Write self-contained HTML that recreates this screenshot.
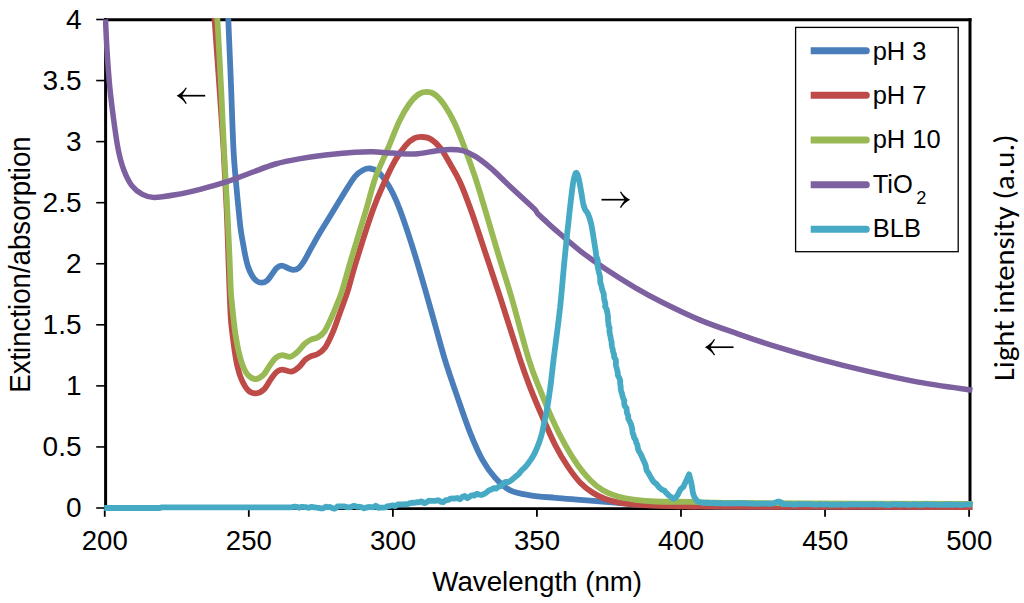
<!DOCTYPE html>
<html lang="en"><head><meta charset="utf-8"><title>Extinction/absorption spectra</title>
<style>
html,body{margin:0;padding:0;background:#fff;}
body{width:1024px;height:603px;overflow:hidden;}
svg{display:block;}
text{font-family:"Liberation Sans",Arial,sans-serif;fill:#000;}
text.cal{font-family:Carlito,Calibri,"Liberation Sans",sans-serif;}
</style></head><body>
<svg width="1024" height="603" viewBox="0 0 1024 603">
<rect width="1024" height="603" fill="#fff"/>
<defs><clipPath id="plot"><rect x="103" y="18" width="870.5" height="494"/></clipPath></defs>
<g stroke="#000" fill="none">
<path d="M105.6,18.2 V509.6" stroke-width="3"/>
<path d="M970,18.2 V509.6" stroke-width="3"/>
<path d="M104.1,19.7 H971.5" stroke-width="3"/>
<path d="M104.1,508.7 H971.5" stroke-width="2.8"/>
<path d="M96.2,508.00 H105" stroke-width="1.6"/>
<path d="M96.2,446.94 H105" stroke-width="1.6"/>
<path d="M96.2,385.88 H105" stroke-width="1.6"/>
<path d="M96.2,324.81 H105" stroke-width="1.6"/>
<path d="M96.2,263.75 H105" stroke-width="1.6"/>
<path d="M96.2,202.69 H105" stroke-width="1.6"/>
<path d="M96.2,141.62 H105" stroke-width="1.6"/>
<path d="M96.2,80.56 H105" stroke-width="1.6"/>
<path d="M96.2,19.50 H105" stroke-width="1.6"/>
<path d="M104.75,508 V516.8" stroke-width="1.8"/>
<path d="M248.81,508 V516.8" stroke-width="1.8"/>
<path d="M392.87,508 V516.8" stroke-width="1.8"/>
<path d="M536.92,508 V516.8" stroke-width="1.8"/>
<path d="M680.98,508 V516.8" stroke-width="1.8"/>
<path d="M825.04,508 V516.8" stroke-width="1.8"/>
<path d="M969.10,508 V516.8" stroke-width="1.8"/>
</g>
<g fill="none" stroke-width="5.8" stroke-linejoin="round" stroke-linecap="butt" clip-path="url(#plot)">
<path d="M227.60,0.00 C227.72,3.25 227.73,5.33 228.30,19.50 C228.87,33.67 230.13,63.25 231.00,85.00 C231.87,106.75 232.58,132.90 233.50,150.00 C234.42,167.10 235.48,175.93 236.50,187.60 C237.52,199.27 238.85,212.67 239.60,220.00 C240.35,227.33 240.43,227.73 241.00,231.60 C241.57,235.47 242.32,239.33 243.00,243.20 C243.68,247.07 244.27,250.92 245.10,254.80 C245.93,258.68 246.83,263.02 248.00,266.50 C249.17,269.98 250.65,273.28 252.10,275.70 C253.55,278.12 255.07,279.83 256.70,281.00 C258.33,282.17 260.15,282.80 261.90,282.70 C263.65,282.60 265.55,281.75 267.20,280.40 C268.85,279.05 270.25,276.63 271.80,274.60 C273.35,272.57 274.85,269.70 276.50,268.20 C278.15,266.70 279.77,265.60 281.70,265.60 C283.63,265.60 286.17,267.48 288.10,268.20 C290.03,268.92 291.57,269.90 293.30,269.90 C295.03,269.90 296.67,269.73 298.50,268.20 C300.33,266.67 302.17,264.08 304.30,260.70 C306.43,257.32 308.68,252.60 311.30,247.90 C313.92,243.20 316.80,237.90 320.00,232.50 C323.20,227.10 326.67,221.75 330.50,215.50 C334.33,209.25 338.92,201.50 343.00,195.00 C347.08,188.50 351.53,180.72 355.00,176.50 C358.47,172.28 361.28,171.03 363.80,169.70 C366.32,168.37 367.80,168.20 370.10,168.50 C372.40,168.80 375.10,169.55 377.60,171.50 C380.10,173.45 382.60,176.65 385.10,180.20 C387.60,183.75 390.10,187.78 392.60,192.80 C395.10,197.82 396.75,201.17 400.10,210.30 C403.45,219.43 408.50,234.32 412.70,247.60 C416.90,260.88 421.55,277.07 425.30,290.00 C429.05,302.93 431.90,313.48 435.20,325.20 C438.50,336.92 441.37,348.23 445.10,360.30 C448.83,372.37 453.43,385.55 457.60,397.60 C461.77,409.65 465.93,422.17 470.10,432.60 C474.27,443.03 478.43,452.68 482.60,460.20 C486.77,467.72 490.50,472.68 495.10,477.70 C499.70,482.72 504.35,487.37 510.20,490.30 C516.05,493.23 522.68,494.05 530.20,495.30 C537.72,496.55 546.95,497.05 555.30,497.80 C563.65,498.55 571.95,499.13 580.30,499.80 C588.65,500.47 597.05,501.10 605.40,501.80 C613.75,502.50 621.30,503.40 630.40,504.00 C639.50,504.60 648.40,505.03 660.00,505.40 C671.60,505.77 683.33,506.00 700.00,506.20 C716.67,506.40 714.60,506.50 760.00,506.60 C805.40,506.70 937.00,506.77 972.40,506.80" stroke="#4a7ebb"/>
<path d="M213.60,0.00 C213.77,3.25 213.60,4.50 214.60,19.50 C215.60,34.50 218.10,68.25 219.60,90.00 C221.10,111.75 222.42,130.00 223.60,150.00 C224.78,170.00 225.83,190.00 226.70,210.00 C227.57,230.00 228.15,252.50 228.80,270.00 C229.45,287.50 230.02,304.50 230.60,315.00 C231.18,325.50 231.65,327.20 232.30,333.00 C232.95,338.80 233.65,344.25 234.50,349.80 C235.35,355.35 236.22,361.33 237.40,366.30 C238.58,371.27 239.80,375.60 241.60,379.60 C243.40,383.60 245.80,388.02 248.20,390.30 C250.60,392.58 253.37,393.47 256.00,393.30 C258.63,393.13 261.57,391.58 264.00,389.30 C266.43,387.02 268.53,382.47 270.60,379.60 C272.67,376.73 274.47,373.75 276.40,372.10 C278.33,370.45 279.72,369.78 282.20,369.70 C284.68,369.62 288.53,372.02 291.30,371.60 C294.07,371.18 296.45,369.18 298.80,367.20 C301.15,365.22 303.33,361.55 305.40,359.70 C307.47,357.85 309.12,357.07 311.20,356.10 C313.28,355.13 315.55,355.37 317.90,353.90 C320.25,352.43 322.88,350.75 325.30,347.30 C327.72,343.85 330.18,338.32 332.40,333.20 C334.62,328.08 336.57,322.13 338.60,316.60 C340.63,311.07 343.03,304.43 344.60,300.00 C346.17,295.57 346.00,296.65 348.00,290.00 C350.00,283.35 352.47,273.38 356.60,260.10 C360.73,246.82 368.20,223.20 372.80,210.30 C377.40,197.40 380.45,191.05 384.20,182.70 C387.95,174.35 391.78,166.35 395.30,160.20 C398.82,154.05 402.10,149.47 405.30,145.80 C408.50,142.13 411.58,139.67 414.50,138.20 C417.42,136.73 420.05,136.83 422.80,137.00 C425.55,137.17 428.07,137.37 431.00,139.20 C433.93,141.03 437.20,143.87 440.40,148.00 C443.60,152.13 446.88,158.22 450.20,164.00 C453.52,169.78 456.83,174.98 460.30,182.70 C463.77,190.42 466.83,198.65 471.00,210.30 C475.17,221.95 480.42,238.03 485.30,252.60 C490.18,267.17 494.47,279.77 500.30,297.70 C506.13,315.63 515.32,345.22 520.30,360.20 C525.28,375.18 526.47,378.03 530.20,387.60 C533.93,397.17 538.52,408.00 542.70,417.60 C546.88,427.20 551.12,437.05 555.30,445.20 C559.48,453.35 563.63,460.25 567.80,466.50 C571.97,472.75 576.13,478.32 580.30,482.70 C584.47,487.08 588.62,490.08 592.80,492.80 C596.98,495.52 600.80,497.33 605.40,499.00 C610.00,500.67 614.15,501.77 620.40,502.80 C626.65,503.83 631.97,504.60 642.90,505.20 C653.83,505.80 675.98,506.17 686.00,506.40 C696.02,506.63 689.33,506.52 703.00,506.60 C716.67,506.68 723.10,506.83 768.00,506.90 C812.90,506.97 938.33,506.98 972.40,507.00" stroke="#be4b48"/>
<path d="M216.60,0.00 C216.73,3.25 216.63,4.50 217.40,19.50 C218.17,34.50 220.10,68.25 221.20,90.00 C222.30,111.75 223.07,131.65 224.00,150.00 C224.93,168.35 225.93,183.40 226.80,200.10 C227.67,216.80 228.53,235.22 229.20,250.20 C229.87,265.18 230.40,281.70 230.80,290.00 C231.20,298.30 231.18,295.57 231.60,300.00 C232.02,304.43 232.68,311.07 233.30,316.60 C233.92,322.13 234.47,327.67 235.30,333.20 C236.13,338.73 237.12,344.55 238.30,349.80 C239.48,355.05 240.75,360.45 242.40,364.70 C244.05,368.95 245.98,372.90 248.20,375.30 C250.42,377.70 253.22,379.12 255.70,379.10 C258.18,379.08 260.75,377.47 263.10,375.20 C265.45,372.93 267.72,368.37 269.80,365.50 C271.88,362.63 273.53,359.72 275.60,358.00 C277.67,356.28 279.72,355.42 282.20,355.20 C284.68,354.98 287.87,357.33 290.50,356.70 C293.13,356.07 295.65,353.53 298.00,351.40 C300.35,349.27 302.40,345.88 304.60,343.90 C306.80,341.92 308.98,340.60 311.20,339.50 C313.42,338.40 315.68,338.63 317.90,337.30 C320.12,335.97 322.30,334.68 324.50,331.50 C326.70,328.32 328.95,322.90 331.10,318.20 C333.25,313.50 335.53,308.00 337.40,303.30 C339.27,298.60 340.05,297.20 342.30,290.00 C344.55,282.80 346.95,273.38 350.90,260.10 C354.85,246.82 361.92,224.03 366.00,210.30 C370.08,196.57 371.68,188.13 375.40,177.70 C379.12,167.27 384.33,157.08 388.30,147.70 C392.27,138.32 395.68,128.72 399.20,121.40 C402.72,114.08 406.23,108.28 409.40,103.80 C412.57,99.32 415.35,96.48 418.20,94.50 C421.05,92.52 423.70,91.88 426.50,91.90 C429.30,91.92 432.02,92.40 435.00,94.60 C437.98,96.80 441.18,100.43 444.40,105.10 C447.62,109.77 450.93,115.50 454.30,122.60 C457.67,129.70 461.10,138.52 464.60,147.70 C468.10,156.88 471.85,167.27 475.30,177.70 C478.75,188.13 481.55,197.82 485.30,210.30 C489.05,222.78 493.42,238.03 497.80,252.60 C502.18,267.17 506.40,279.77 511.60,297.70 C516.80,315.63 524.23,344.80 529.00,360.20 C533.77,375.60 536.25,380.12 540.20,390.10 C544.15,400.08 548.52,410.92 552.70,420.10 C556.88,429.28 561.12,437.68 565.30,445.20 C569.48,452.72 573.63,459.37 577.80,465.20 C581.97,471.03 586.13,476.02 590.30,480.20 C594.47,484.38 598.20,487.58 602.80,490.30 C607.40,493.02 612.47,494.92 617.90,496.50 C623.33,498.08 629.13,498.97 635.40,499.80 C641.67,500.63 646.33,501.15 655.50,501.50 C664.67,501.85 676.32,501.65 690.40,501.90 C704.48,502.15 693.00,502.65 740.00,503.00 C787.00,503.35 933.67,503.83 972.40,504.00" stroke="#98b954"/>
<path d="M105.50,19.50 C105.75,24.58 106.32,39.05 107.00,50.00 C107.68,60.95 108.48,73.53 109.60,85.20 C110.72,96.87 112.25,109.20 113.70,120.00 C115.15,130.80 116.62,141.67 118.30,150.00 C119.98,158.33 121.55,164.07 123.80,170.00 C126.05,175.93 128.70,181.53 131.80,185.60 C134.90,189.67 138.72,192.43 142.40,194.40 C146.08,196.37 148.43,197.33 153.90,197.40 C159.37,197.47 167.48,196.15 175.20,194.80 C182.92,193.45 191.85,191.40 200.20,189.30 C208.55,187.20 216.95,184.92 225.30,182.20 C233.65,179.48 241.95,176.03 250.30,173.00 C258.65,169.97 267.05,166.40 275.40,164.00 C283.75,161.60 292.05,160.10 300.40,158.60 C308.75,157.10 316.40,156.05 325.50,155.00 C334.60,153.95 347.15,152.85 355.00,152.30 C362.85,151.75 366.33,151.57 372.60,151.70 C378.87,151.83 385.50,152.73 392.60,153.10 C399.70,153.47 408.10,154.25 415.20,153.90 C422.30,153.55 429.37,151.75 435.20,151.00 C441.03,150.25 445.60,149.45 450.20,149.40 C454.80,149.35 458.62,149.53 462.80,150.70 C466.98,151.87 470.72,153.57 475.30,156.40 C479.88,159.23 485.28,163.43 490.30,167.70 C495.32,171.97 500.38,177.28 505.40,182.00 C510.42,186.72 516.30,192.20 520.40,196.00 C524.50,199.80 527.47,202.43 530.00,204.80 C532.53,207.17 534.23,208.63 535.60,210.20 C536.97,211.77 536.63,212.50 538.20,214.20 C539.77,215.90 542.18,217.83 545.00,220.40 C547.82,222.97 549.25,224.53 555.10,229.60 C560.95,234.67 571.75,244.27 580.10,250.80 C588.45,257.33 596.03,262.67 605.20,268.80 C614.37,274.93 625.53,281.98 635.10,287.60 C644.67,293.22 651.75,297.08 662.60,302.50 C673.45,307.92 687.67,314.88 700.20,320.10 C712.73,325.32 725.27,329.42 737.80,333.80 C750.33,338.18 762.02,342.23 775.40,346.40 C788.78,350.57 802.63,354.63 818.10,358.80 C833.57,362.97 851.50,367.52 868.20,371.40 C884.90,375.28 900.93,378.95 918.30,382.10 C935.67,385.25 963.38,388.93 972.40,390.30" stroke="#7d60a0" stroke-width="5.5"/>
<path d="M104.20,508.00 L104.85,508.00 L105.57,508.00 L106.36,508.00 L107.22,508.00 L108.15,508.00 L109.14,508.00 L110.19,508.00 L111.29,508.00 L112.44,508.00 L113.65,508.00 L114.89,508.00 L116.18,508.00 L117.51,508.00 L118.87,508.00 L120.26,508.00 L121.68,508.00 L123.13,508.00 L124.59,508.00 L126.07,508.00 L127.57,508.00 L129.07,508.00 L130.58,508.00 L132.10,508.00 L133.62,508.00 L135.13,508.00 L136.63,508.00 L138.13,508.00 L139.61,508.00 L141.07,508.00 L142.52,508.00 L143.94,508.00 L145.33,508.00 L146.69,508.00 L148.02,508.00 L149.31,508.00 L150.55,508.00 L151.76,508.00 L152.91,508.00 L154.01,508.00 L155.06,508.00 L156.05,508.00 L156.98,508.00 L157.84,508.00 L158.63,508.00 L159.35,508.00 L160.00,508.00 L161.00,507.40 L161.62,507.40 L162.26,507.40 L162.94,507.40 L163.64,507.40 L164.37,507.40 L165.13,507.40 L165.92,507.40 L166.73,507.40 L167.57,507.40 L168.43,507.40 L169.32,507.40 L170.24,507.40 L171.17,507.40 L172.13,507.40 L173.11,507.40 L174.12,507.40 L175.15,507.40 L176.19,507.40 L177.26,507.40 L178.35,507.40 L179.45,507.40 L180.58,507.40 L181.72,507.40 L182.88,507.40 L184.06,507.40 L185.26,507.40 L186.47,507.40 L187.69,507.40 L188.93,507.40 L190.19,507.40 L191.46,507.40 L192.74,507.40 L194.04,507.40 L195.34,507.40 L196.66,507.40 L197.99,507.40 L199.33,507.40 L200.68,507.40 L202.04,507.40 L203.41,507.40 L204.79,507.41 L206.17,507.41 L207.57,507.41 L208.96,507.41 L210.37,507.41 L211.78,507.41 L213.19,507.41 L214.61,507.41 L216.04,507.41 L217.46,507.41 L218.89,507.41 L220.33,507.41 L221.76,507.41 L223.19,507.41 L224.63,507.41 L226.06,507.41 L227.50,507.41 L228.93,507.41 L230.36,507.41 L231.79,507.41 L233.22,507.41 L234.64,507.41 L236.06,507.41 L237.48,507.41 L238.89,507.41 L240.30,507.41 L241.70,507.41 L243.09,507.41 L244.47,507.41 L245.85,507.41 L247.22,507.41 L248.58,507.41 L249.93,507.41 L251.28,507.41 L252.61,507.41 L253.93,507.41 L255.24,507.41 L256.53,507.41 L257.82,507.41 L259.09,507.41 L260.34,507.41 L261.59,507.41 L262.82,507.41 L264.03,507.41 L265.23,507.41 L266.41,507.40 L267.57,507.40 L268.71,507.40 L269.84,507.40 L270.95,507.40 L272.04,507.40 L273.11,507.40 L274.16,507.40 L275.19,507.40 L276.20,507.40 L277.18,507.40 L278.14,507.40 L279.08,507.40 L280.00,507.40 L281.77,507.40 L283.51,507.40 L285.21,507.40 L286.87,507.40 L288.51,507.40 L290.11,507.40 L291.67,507.39 L293.21,506.82 L294.72,506.77 L296.19,506.71 L297.64,507.08 L299.06,507.75 L300.45,507.29 L301.82,506.81 L303.16,506.92 L304.47,507.03 L305.76,507.15 L307.03,507.41 L308.27,507.81 L309.50,507.61 L310.70,506.98 L311.88,506.88 L313.04,507.17 L314.19,507.34 L315.31,507.41 L316.42,507.55 L317.51,507.79 L318.59,507.98 L319.65,507.94 L320.70,508.34 L321.74,508.38 L322.76,508.44 L323.78,508.04 L324.78,507.30 L325.77,506.73 L326.75,506.89 L327.73,507.06 L328.69,507.05 L329.65,506.98 L330.61,507.06 L331.56,507.68 L332.50,508.30 L333.44,508.55 L334.38,508.63 L335.32,508.58 L336.25,507.63 L337.19,506.68 L338.12,506.28 L339.06,506.30 L340.00,506.33 L341.66,506.43 L343.27,506.47 L344.84,506.48 L346.36,506.94 L347.85,507.28 L349.29,507.45 L350.70,507.02 L352.08,506.45 L353.41,506.00 L354.72,505.83 L355.99,506.47 L357.23,506.85 L358.44,506.76 L359.62,506.79 L360.78,507.06 L361.91,507.39 L363.02,507.91 L364.10,508.33 L365.17,507.96 L366.21,507.60 L367.23,507.33 L368.24,507.09 L369.23,507.00 L370.21,507.11 L371.17,507.21 L372.13,507.26 L373.07,507.31 L374.00,507.02 L375.67,505.68 L377.24,506.70 L378.70,507.85 L380.08,507.61 L381.37,507.53 L382.59,507.64 L383.75,507.63 L384.86,507.48 L385.93,507.21 L386.96,506.64 L387.98,506.09 L388.98,506.04 L389.97,506.00 L390.98,505.74 L392.00,505.31 L393.52,505.40 L394.98,506.27 L396.39,505.46 L397.75,504.49 L399.06,504.38 L400.33,504.33 L401.55,504.43 L402.74,504.44 L403.88,504.26 L405.00,504.13 L406.52,504.30 L407.95,504.01 L409.29,503.36 L410.56,503.01 L411.76,502.76 L412.91,502.74 L414.00,502.78 L415.33,502.55 L416.42,502.24 L417.46,502.18 L418.59,502.32 L420.00,501.95 L421.07,501.36 L422.27,501.71 L423.54,502.93 L424.88,503.00 L426.22,502.44 L427.55,501.59 L428.82,500.75 L430.00,500.80 L431.44,500.87 L432.78,500.93 L434.06,500.95 L435.33,500.89 L436.63,500.61 L438.00,500.09 L439.24,500.62 L440.53,501.67 L441.84,501.98 L443.16,502.09 L444.47,501.12 L445.76,500.24 L447.00,500.13 L448.19,499.93 L449.11,499.39 L450.00,498.86 L451.11,498.53 L452.69,498.31 L455.00,498.57 L455.83,498.42 L456.74,498.17 L457.72,498.01 L458.77,498.58 L459.89,499.18 L461.05,498.19 L462.26,496.98 L463.51,496.46 L464.79,496.02 L466.09,497.29 L467.41,498.23 L468.74,497.28 L470.08,496.35 L471.41,495.46 L472.73,495.27 L474.03,495.63 L475.30,494.96 L476.54,493.86 L477.74,493.99 L478.90,494.41 L480.00,494.73 L481.24,495.06 L482.47,494.74 L483.68,494.16 L484.87,493.50 L486.05,492.82 L487.21,491.86 L488.36,490.77 L489.50,490.16 L490.61,489.83 L491.71,489.29 L492.80,488.53 L493.87,488.04 L494.93,488.34 L495.97,488.62 L497.00,487.84 L498.02,487.03 L499.02,486.59 L500.00,486.39 L501.16,485.83 L502.29,484.58 L503.39,483.42 L504.47,482.66 L505.52,481.89 L506.56,481.94 L507.57,482.05 L508.56,481.84 L509.54,481.39 L510.51,480.90 L511.47,480.06 L512.41,479.23 L513.35,478.44 L514.28,477.68 L515.20,476.92 L516.19,476.16 L517.17,475.38 L518.15,474.53 L519.11,473.61 L520.07,472.24 L521.01,471.16 L521.93,470.08 L522.83,469.17 L523.72,468.44 L524.57,467.71 L525.40,466.83 L526.20,465.91 L526.97,464.99 L527.70,464.05 L528.57,462.84 L529.38,461.69 L530.14,460.64 L530.85,459.64 L531.51,458.63 L532.15,457.62 L532.77,456.64 L533.38,455.61 L533.98,454.53 L534.58,453.35 L535.20,452.03 L535.66,451.01 L536.11,449.97 L536.56,448.90 L537.00,447.85 L537.44,446.82 L537.87,445.77 L538.30,444.69 L538.72,443.59 L539.13,442.46 L539.54,441.27 L539.94,440.05 L540.34,438.81 L540.73,437.54 L541.12,436.25 L541.50,434.93 L541.80,433.80 L542.09,432.59 L542.38,431.36 L542.66,430.11 L542.94,428.84 L543.22,427.55 L543.49,426.25 L543.76,424.93 L544.03,423.62 L544.29,422.42 L544.55,421.21 L544.81,419.99 L545.06,418.77 L545.31,417.56 L545.56,416.34 L545.80,415.13 L546.03,413.93 L546.27,412.73 L546.50,411.53 L546.73,410.31 L546.95,409.09 L547.16,407.89 L547.37,406.69 L547.58,405.50 L547.78,404.30 L547.98,403.11 L548.17,401.92 L548.36,400.72 L548.55,399.52 L548.74,398.31 L548.92,397.09 L549.11,395.86 L549.29,394.61 L549.47,393.36 L549.65,392.08 L549.83,390.80 L550.02,389.49 L550.20,388.16 L550.36,387.02 L550.50,385.91 L550.65,384.81 L550.78,383.73 L550.92,382.66 L551.05,381.60 L551.18,380.53 L551.30,379.43 L551.43,378.31 L551.56,377.17 L551.69,376.01 L551.82,374.83 L551.96,373.61 L552.10,372.34 L552.24,371.04 L552.39,369.68 L552.55,368.27 L552.72,366.79 L552.90,365.25 L553.09,363.64 L553.29,361.94 L553.50,360.17 L553.62,359.18 L553.74,358.19 L553.87,357.17 L554.00,356.13 L554.14,355.07 L554.28,353.98 L554.42,352.88 L554.56,351.75 L554.71,350.60 L554.86,349.44 L555.02,348.25 L555.17,347.06 L555.33,345.84 L555.49,344.61 L555.65,343.37 L555.82,342.12 L555.98,340.85 L556.15,339.59 L556.31,338.31 L556.48,337.03 L556.65,335.75 L556.81,334.45 L556.98,333.15 L557.15,331.85 L557.32,330.54 L557.49,329.23 L557.65,327.92 L557.82,326.61 L557.98,325.30 L558.15,323.99 L558.31,322.68 L558.47,321.38 L558.63,320.08 L558.78,318.78 L558.94,317.49 L559.09,316.21 L559.24,314.94 L559.38,313.68 L559.52,312.42 L559.66,311.18 L559.80,309.95 L559.93,308.72 L560.07,307.84 L560.20,306.61 L560.33,305.36 L560.45,304.11 L560.58,302.86 L560.71,301.60 L560.83,300.34 L560.95,299.07 L561.08,297.81 L561.20,296.54 L561.32,295.27 L561.44,293.99 L561.55,292.72 L561.67,291.45 L561.79,290.18 L561.90,288.90 L562.02,287.64 L562.13,286.37 L562.24,285.11 L562.36,283.85 L562.47,282.59 L562.58,281.34 L562.69,280.09 L562.80,278.85 L562.91,277.61 L563.02,276.39 L563.12,275.16 L563.23,273.95 L563.34,272.75 L563.45,271.55 L563.55,270.36 L563.66,269.19 L563.76,268.02 L563.87,266.87 L563.97,265.72 L564.08,264.59 L564.19,263.47 L564.29,262.37 L564.40,261.28 L564.50,260.20 L564.64,258.80 L564.77,257.41 L564.91,256.05 L565.04,254.70 L565.18,253.37 L565.31,252.06 L565.44,250.76 L565.57,249.48 L565.70,248.22 L565.82,246.97 L565.95,245.73 L566.08,244.50 L566.20,243.29 L566.33,242.09 L566.45,240.89 L566.57,239.71 L566.70,238.54 L566.82,237.37 L566.94,236.21 L567.06,235.06 L567.18,233.91 L567.31,232.77 L567.43,231.63 L567.55,230.50 L567.67,229.37 L567.79,228.24 L567.91,227.11 L568.03,225.98 L568.16,224.86 L568.28,223.73 L568.40,222.60 L568.54,221.30 L568.68,219.98 L568.83,218.66 L568.97,217.32 L569.12,215.99 L569.27,214.65 L569.41,213.31 L569.56,211.98 L569.71,210.65 L569.85,209.32 L570.00,208.01 L570.15,206.71 L570.29,205.42 L570.43,204.15 L570.58,202.89 L570.72,201.66 L570.86,200.45 L570.99,199.26 L571.13,198.10 L571.26,196.98 L571.39,195.88 L571.52,194.82 L571.64,193.79 L571.76,192.81 L571.88,191.86 L571.99,190.96 L572.10,190.10 L572.37,188.01 L572.62,186.20 L572.85,184.64 L573.06,183.29 L573.25,182.12 L573.44,181.09 L573.62,180.15 L573.81,179.29 L574.00,178.45 L574.20,177.60 L574.72,175.62 L575.24,174.08 L575.76,173.10 L576.30,172.80 L576.86,173.28 L577.44,174.46 L578.02,176.15 L578.60,178.20 L578.83,179.11 L579.05,180.10 L579.27,181.16 L579.49,182.29 L579.71,183.47 L579.93,184.72 L580.16,186.01 L580.40,187.34 L580.64,188.71 L580.90,190.10 L581.10,191.23 L581.31,192.44 L581.52,193.72 L581.73,195.05 L581.95,196.41 L582.17,197.78 L582.39,199.15 L582.63,200.50 L582.87,201.81 L583.11,203.06 L583.37,204.24 L583.63,205.32 L583.90,206.30 L584.44,207.81 L585.04,209.47 L585.66,210.41 L586.30,211.24 L586.93,212.07 L587.54,213.03 L588.10,214.22 L588.50,215.24 L588.89,216.24 L589.25,217.25 L589.61,218.30 L589.96,219.39 L590.30,220.59 L590.66,221.93 L591.02,223.44 L591.40,225.16 L591.58,226.04 L591.77,226.97 L591.95,227.93 L592.13,228.93 L592.31,229.97 L592.49,231.04 L592.68,232.14 L592.86,233.28 L593.05,234.44 L593.24,235.62 L593.43,236.84 L593.62,238.07 L593.82,239.33 L594.02,240.60 L594.23,241.90 L594.44,243.22 L594.65,244.64 L594.87,246.08 L595.10,247.53 L595.28,248.64 L595.45,249.78 L595.63,250.93 L595.81,252.10 L596.00,253.29 L596.03,254.49 L596.19,255.70 L596.54,256.94 L597.06,258.18 L597.50,259.36 L597.74,260.52 L597.92,261.69 L597.60,262.87 L597.29,264.05 L597.47,265.24 L597.69,266.44 L597.93,267.64 L598.18,268.85 L598.41,270.05 L598.62,271.26 L598.93,272.48 L599.31,273.79 L599.66,275.10 L599.95,276.40 L600.16,277.71 L600.17,278.92 L600.19,280.14 L600.25,281.36 L600.31,282.58 L600.69,283.81 L601.17,285.05 L601.52,286.28 L601.72,287.49 L601.96,288.70 L602.32,289.91 L602.68,291.13 L603.16,292.36 L603.65,293.58 L603.80,294.81 L603.88,296.04 L603.98,297.28 L604.11,298.51 L604.32,299.66 L604.62,300.82 L604.92,301.98 L605.20,303.14 L605.44,304.30 L605.28,305.47 L605.11,306.64 L605.82,307.82 L606.60,308.99 L606.90,310.18 L607.04,311.34 L607.25,312.50 L607.51,313.66 L607.75,314.82 L607.91,315.98 L608.06,317.15 L608.03,318.31 L607.98,319.48 L608.10,320.65 L608.30,321.82 L608.44,322.99 L608.46,324.18 L608.53,325.41 L609.06,326.65 L609.59,327.89 L609.53,329.14 L609.38,330.39 L609.45,331.65 L609.66,332.91 L609.91,334.18 L610.22,335.46 L610.49,336.75 L610.68,338.04 L610.88,339.29 L611.22,340.51 L611.57,341.74 L611.62,342.98 L611.66,344.23 L611.84,345.49 L612.03,346.61 L612.29,347.75 L612.60,348.90 L612.88,350.06 L613.07,351.24 L613.30,352.40 L613.70,353.56 L614.11,354.73 L614.12,355.91 L614.14,357.10 L614.83,358.30 L615.64,359.49 L615.89,360.69 L615.97,361.90 L615.95,363.10 L615.89,364.36 L616.03,365.63 L616.35,366.89 L616.66,368.15 L616.98,369.40 L617.27,370.64 L617.53,371.88 L617.76,373.11 L617.85,374.33 L617.95,375.54 L618.64,376.74 L619.34,377.92 L619.76,379.10 L620.09,380.25 L620.25,381.39 L620.18,382.51 L620.12,383.60 L620.36,384.68 L620.68,386.06 L620.74,387.49 L620.76,388.92 L621.03,390.32 L621.33,391.69 L621.73,393.04 L622.17,394.36 L622.49,395.66 L622.73,396.95 L623.09,398.18 L623.71,399.32 L624.33,400.45 L624.23,401.57 L624.12,402.69 L624.21,403.80 L624.42,404.92 L624.82,406.04 L625.67,407.15 L626.54,408.20 L626.64,409.25 L626.69,410.31 L626.77,411.39 L626.86,412.48 L627.17,413.58 L627.77,414.71 L628.22,415.88 L628.23,417.14 L628.25,418.43 L628.85,419.74 L629.51,421.07 L630.17,422.41 L630.82,423.77 L631.29,425.07 L631.59,426.35 L631.87,427.63 L632.14,428.91 L632.36,430.19 L632.46,431.47 L632.60,432.72 L633.05,433.89 L633.50,435.06 L633.75,436.21 L634.00,437.35 L634.63,438.48 L635.37,439.58 L635.86,440.67 L636.08,441.73 L636.31,442.76 L636.79,443.77 L637.26,444.75 L637.54,445.69 L637.64,446.60 L637.73,447.55 L638.14,449.23 L638.66,450.81 L639.61,452.28 L640.45,453.68 L641.04,454.83 L641.60,455.87 L641.97,456.86 L642.34,457.80 L642.74,458.71 L643.15,459.67 L643.58,460.64 L644.03,461.60 L644.49,462.56 L644.94,463.52 L645.38,464.69 L645.91,466.45 L646.17,468.15 L646.43,469.81 L647.13,471.27 L647.89,472.24 L648.51,473.18 L649.03,474.11 L649.56,475.04 L650.03,476.03 L650.53,477.02 L651.18,478.00 L651.94,479.26 L652.69,480.51 L653.62,481.78 L654.58,482.63 L655.53,483.27 L656.41,483.90 L657.30,485.17 L658.36,486.47 L659.50,487.65 L660.62,488.54 L661.67,489.40 L662.68,489.95 L663.67,490.33 L664.40,490.67 L665.20,491.66 L666.01,492.73 L667.30,493.79 L668.21,494.82 L669.26,495.74 L670.29,496.51 L671.29,497.18 L672.24,497.98 L673.15,498.56 L674.00,498.66 L674.98,498.11 L675.87,497.19 L676.70,496.25 L677.47,495.15 L678.20,493.93 L678.91,492.49 L679.60,491.05 L680.30,489.78 L681.09,488.74 L681.86,488.16 L682.60,487.58 L683.31,486.86 L684.00,485.47 L684.66,484.07 L685.30,482.65 L685.94,481.30 L686.58,479.98 L687.21,478.62 L687.80,477.29 L688.33,476.09 L688.77,475.07 L689.10,474.33 L689.30,475.11 L689.56,476.13 L689.88,477.36 L690.23,478.72 L690.60,480.19 L690.96,481.72 L691.30,483.20 L691.60,484.59 L691.86,485.94 L692.09,487.33 L692.30,488.74 L692.51,490.14 L692.72,491.52 L692.95,492.73 L693.20,493.80 L693.50,494.73 L693.97,495.98 L694.42,497.04 L694.95,497.89 L695.68,498.95 L696.70,500.26 L697.44,501.18 L698.06,501.65 L698.73,501.93 L699.64,502.08 L700.95,502.37 L702.85,502.74 L705.50,502.89 L706.31,502.80 L707.18,502.69 L708.12,502.88 L709.12,503.08 L710.17,503.13 L711.27,503.06 L712.42,502.99 L713.62,502.93 L714.85,503.03 L716.11,503.42 L717.40,503.50 L718.72,503.19 L720.07,503.19 L721.42,503.34 L722.80,503.48 L724.18,503.58 L725.57,503.49 L726.96,503.39 L728.34,503.27 L729.72,503.29 L731.09,503.39 L732.44,503.41 L733.77,503.44 L735.08,503.55 L736.36,503.54 L737.61,503.23 L738.83,503.11 L740.00,503.32 L741.30,503.41 L742.63,503.27 L743.97,503.22 L745.32,503.25 L746.69,503.47 L748.06,503.72 L749.43,503.60 L750.80,503.53 L752.17,503.57 L753.52,503.65 L754.87,503.77 L756.19,503.86 L757.49,503.95 L758.77,503.76 L760.02,503.55 L761.23,503.64 L762.41,503.72 L763.54,503.68 L764.63,503.64 L765.67,503.63 L766.66,503.64 L767.59,503.66 L768.46,503.71 L769.26,503.76 L770.00,503.74 L773.04,503.48 L774.14,503.33 L774.42,503.11 L775.00,502.82 L776.36,502.19 L777.59,501.63 L778.80,501.53 L779.97,501.90 L781.14,502.54 L782.50,503.24 L782.42,503.60 L781.61,503.87 L782.61,504.22 L788.00,504.19 L788.67,504.03 L789.36,504.08 L790.08,504.17 L790.81,504.26 L791.56,504.37 L792.34,504.49 L793.13,504.62 L793.95,504.68 L794.79,504.66 L795.64,504.64 L796.52,504.49 L797.42,504.27 L798.34,504.03 L799.29,504.02 L800.25,504.02 L801.24,504.08 L802.24,504.20 L803.27,504.31 L804.32,504.17 L805.40,504.03 L806.49,504.06 L807.61,504.14 L808.75,504.12 L809.91,504.05 L811.09,504.18 L812.30,504.46 L813.53,504.60 L814.78,504.66 L816.05,504.72 L817.35,504.78 L818.67,504.49 L820.01,504.13 L821.38,504.42 L822.77,504.63 L824.18,504.60 L825.61,504.43 L827.07,504.15 L828.55,504.51 L830.06,504.81 L831.59,504.87 L833.14,504.56 L834.72,504.30 L836.32,504.74 L837.95,504.64 L839.59,504.40 L841.27,504.46 L842.97,504.73 L844.69,504.89 L846.43,504.78 L848.20,504.34 L850.00,504.32 L850.92,504.41 L851.85,504.46 L852.81,504.50 L853.80,504.51 L854.80,504.45 L855.83,504.38 L856.87,504.33 L857.94,504.27 L859.02,504.28 L860.12,504.33 L861.24,504.43 L862.38,504.61 L863.54,504.64 L864.71,504.34 L865.90,504.16 L867.10,504.41 L868.32,504.58 L869.56,504.53 L870.80,504.43 L872.06,504.23 L873.34,504.18 L874.63,504.33 L875.93,504.48 L877.24,504.63 L878.56,504.63 L879.89,504.58 L881.23,504.37 L882.58,504.24 L883.94,504.71 L885.31,504.97 L886.69,504.87 L888.07,504.90 L889.46,504.99 L890.86,504.60 L892.26,504.24 L893.67,504.33 L895.08,504.32 L896.50,504.20 L897.92,504.49 L899.35,504.82 L900.77,504.55 L902.20,504.36 L903.63,504.29 L905.06,504.39 L906.50,504.55 L907.93,504.82 L909.36,504.96 L910.79,504.91 L912.22,504.69 L913.65,504.40 L915.08,504.34 L916.50,504.45 L917.92,504.86 L919.33,504.88 L920.74,504.70 L922.15,504.76 L923.55,504.73 L924.94,504.41 L926.33,504.26 L927.71,504.24 L929.08,504.50 L930.44,504.81 L931.80,504.67 L933.15,504.53 L934.48,504.36 L935.81,504.46 L937.13,504.89 L938.43,504.95 L939.72,504.81 L941.00,504.84 L942.27,504.92 L943.52,504.63 L944.77,504.30 L945.99,504.63 L947.20,504.98 L948.40,504.63 L949.58,504.28 L950.74,504.62 L951.89,504.96 L953.02,504.84 L954.13,504.67 L955.22,504.60 L956.30,504.55 L957.35,504.58 L958.38,504.66 L959.40,504.76 L960.39,504.90 L961.36,505.03 L962.31,504.89 L963.24,504.67 L964.14,504.47 L965.02,504.43 L965.87,504.38 L966.71,504.40 L967.51,504.52 L968.29,504.64 L969.04,504.69 L969.77,504.62 L970.47,504.54 L971.14,504.47 L971.79,504.44 L972.40,504.70" stroke="#46aac5"/>
</g>
<rect x="795.6" y="27.4" width="162.6" height="224.3" fill="#fff" stroke="#000" stroke-width="1.3"/>
<path d="M810.7,47.20 H866.3 a3.5,3.5 0 0 1 0,7 H810.7 Z" fill="#4a7ebb"/>
<text x="872.7" y="60.00" font-size="25.5">pH 3</text>
<path d="M810.7,91.85 H866.3 a3.5,3.5 0 0 1 0,7 H810.7 Z" fill="#be4b48"/>
<text x="872.7" y="104.20" font-size="25.5">pH 7</text>
<path d="M810.7,136.50 H866.3 a3.5,3.5 0 0 1 0,7 H810.7 Z" fill="#98b954"/>
<text x="872.7" y="148.40" font-size="25.5">pH 10</text>
<path d="M810.7,181.15 H866.3 a3.5,3.5 0 0 1 0,7 H810.7 Z" fill="#7d60a0"/>
<text x="872.7" y="192.60" font-size="25.5">TiO<tspan dx="3.5" dy="11.2" font-size="18.2">2</tspan></text>
<path d="M810.7,225.80 H866.3 a3.5,3.5 0 0 1 0,7 H810.7 Z" fill="#46aac5"/>
<text x="872.7" y="236.80" font-size="25.5">BLB</text>
<text x="81.5" y="517.40" font-size="28" text-anchor="end">0</text>
<text x="81.5" y="456.34" font-size="28" text-anchor="end">0.5</text>
<text x="81.5" y="395.27" font-size="28" text-anchor="end">1</text>
<text x="81.5" y="334.21" font-size="28" text-anchor="end">1.5</text>
<text x="81.5" y="273.15" font-size="28" text-anchor="end">2</text>
<text x="81.5" y="212.09" font-size="28" text-anchor="end">2.5</text>
<text x="81.5" y="151.03" font-size="28" text-anchor="end">3</text>
<text x="81.5" y="89.96" font-size="28" text-anchor="end">3.5</text>
<text x="81.5" y="28.90" font-size="28" text-anchor="end">4</text>
<text x="104.80" y="550.2" font-size="27.6" text-anchor="middle">200</text>
<text x="248.88" y="550.2" font-size="27.6" text-anchor="middle">250</text>
<text x="392.97" y="550.2" font-size="27.6" text-anchor="middle">300</text>
<text x="537.05" y="550.2" font-size="27.6" text-anchor="middle">350</text>
<text x="681.13" y="550.2" font-size="27.6" text-anchor="middle">400</text>
<text x="825.22" y="550.2" font-size="27.6" text-anchor="middle">450</text>
<text x="969.30" y="550.2" font-size="27.6" text-anchor="middle">500</text>
<text x="537.2" y="591" font-size="27.7" text-anchor="middle">Wavelength (nm)</text>
<text transform="translate(30.1,264.6) rotate(-90)" font-size="28.6" text-anchor="middle" textLength="256.4" lengthAdjust="spacingAndGlyphs">Extinction/absorption</text>
<text transform="translate(1014,257.8) rotate(-90)" font-size="29" text-anchor="middle" class="cal" textLength="246.5" lengthAdjust="spacingAndGlyphs">Light intensity (a.u.)</text>
<path d="M176.60,95.70 C179.80,94.10 183.80,90.90 185.70,87.50 L186.80,88.10 C184.80,91.50 182.80,94.10 182.00,95.70 C182.80,97.30 184.80,99.90 186.80,103.30 L185.70,103.90 C183.80,100.50 179.80,97.30 176.60,95.70 Z" fill="#000"/><path d="M179.60,95.70 L205.20,95.70" stroke="#000" stroke-width="1.7" fill="none"/>
<path d="M630.10,199.70 C626.90,198.10 622.90,194.90 621.00,191.50 L619.90,192.10 C621.90,195.50 623.90,198.10 624.70,199.70 C623.90,201.30 621.90,203.90 619.90,207.30 L621.00,207.90 C622.90,204.50 626.90,201.30 630.10,199.70 Z" fill="#000"/><path d="M627.10,199.70 L601.50,199.70" stroke="#000" stroke-width="1.7" fill="none"/>
<path d="M704.90,347.20 C708.10,345.60 712.10,342.40 714.00,339.00 L715.10,339.60 C713.10,343.00 711.10,345.60 710.30,347.20 C711.10,348.80 713.10,351.40 715.10,354.80 L714.00,355.40 C712.10,352.00 708.10,348.80 704.90,347.20 Z" fill="#000"/><path d="M707.90,347.20 L733.50,347.20" stroke="#000" stroke-width="1.7" fill="none"/>
</svg>
</body></html>
